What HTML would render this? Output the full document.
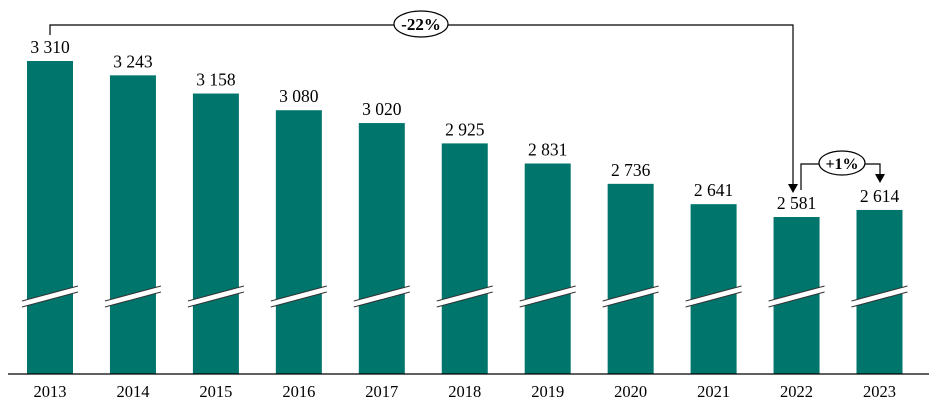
<!DOCTYPE html>
<html><head><meta charset="utf-8"><style>
body{margin:0;background:#fff}
svg{display:block;font-family:"Liberation Serif",serif}
</style></head><body>
<svg id="chart" width="929" height="412" viewBox="0 0 929 412">
<g id="bars"></g>
<line x1="8" y1="374" x2="929" y2="374" stroke="#000" stroke-width="1.2"/>
<g fill="none" stroke="#000" stroke-width="1.2">
<polyline points="50,35 50,25 793,25 793,185"/>
</g>
<polygon points="788,184 798,184 793,193" fill="#000"/>
<ellipse cx="421" cy="24" rx="27" ry="13" fill="#fff" stroke="#000" stroke-width="1.2"/>
<text x="421" y="30" text-anchor="middle" font-size="17" font-weight="bold">-22%</text>
<polyline points="801,190 801,164 880,164 880,175" fill="none" stroke="#000" stroke-width="1.2"/>
<polygon points="875,174 885,174 880,183" fill="#000"/>
<ellipse cx="842" cy="163" rx="23" ry="12" fill="#fff" stroke="#000" stroke-width="1.2"/>
<text x="842" y="169" text-anchor="middle" font-size="16" font-weight="bold">+1%</text>
</svg>
<script>
const years=["2013","2014","2015","2016","2017","2018","2019","2020","2021","2022","2023"];
const values=[3310,3243,3158,3080,3020,2925,2831,2736,2641,2581,2614];
const valueLabels=["3 310","3 243","3 158","3 080","3 020","2 925","2 831","2 736","2 641","2 581","2 614"];
const NS="http://www.w3.org/2000/svg";
const g=document.getElementById('bars');
const base=374;
function yScale(v){return 61+(3310-v)*0.214;}
function xCenter(i){return 50+i*82.95;}
const bw=46;
function mk(t,a){const e=document.createElementNS(NS,t);for(const k in a)e.setAttribute(k,a[k]);g.appendChild(e);return e;}
values.forEach((v,i)=>{
  const cx=xCenter(i),y=yScale(v);
  const r=mk('rect',{x:cx-bw/2,y:y,width:bw,height:base-y,fill:'#00756b'});
  
  
  const p=mk('polygon',{points:`${cx-28},${301} ${cx+28},${286} ${cx+28},${292} ${cx-28},${307}`,fill:'#fff'});
  
  
  const l1=mk('line',{x1:cx-28,y1:301,x2:cx+28,y2:286,stroke:'#333','stroke-width':1});
  
  
  const l2=mk('line',{x1:cx-28,y1:307,x2:cx+28,y2:292,stroke:'#333','stroke-width':1});
  
  
  const t=mk('text',{x:cx,y:y-8,'text-anchor':'middle','font-size':17.5});
  t.textContent=valueLabels[i];
  
  
  const yl=mk('text',{x:cx,y:397,'text-anchor':'middle','font-size':16.5});
  yl.textContent=years[i];
  
  
});
</script>
</body></html>
